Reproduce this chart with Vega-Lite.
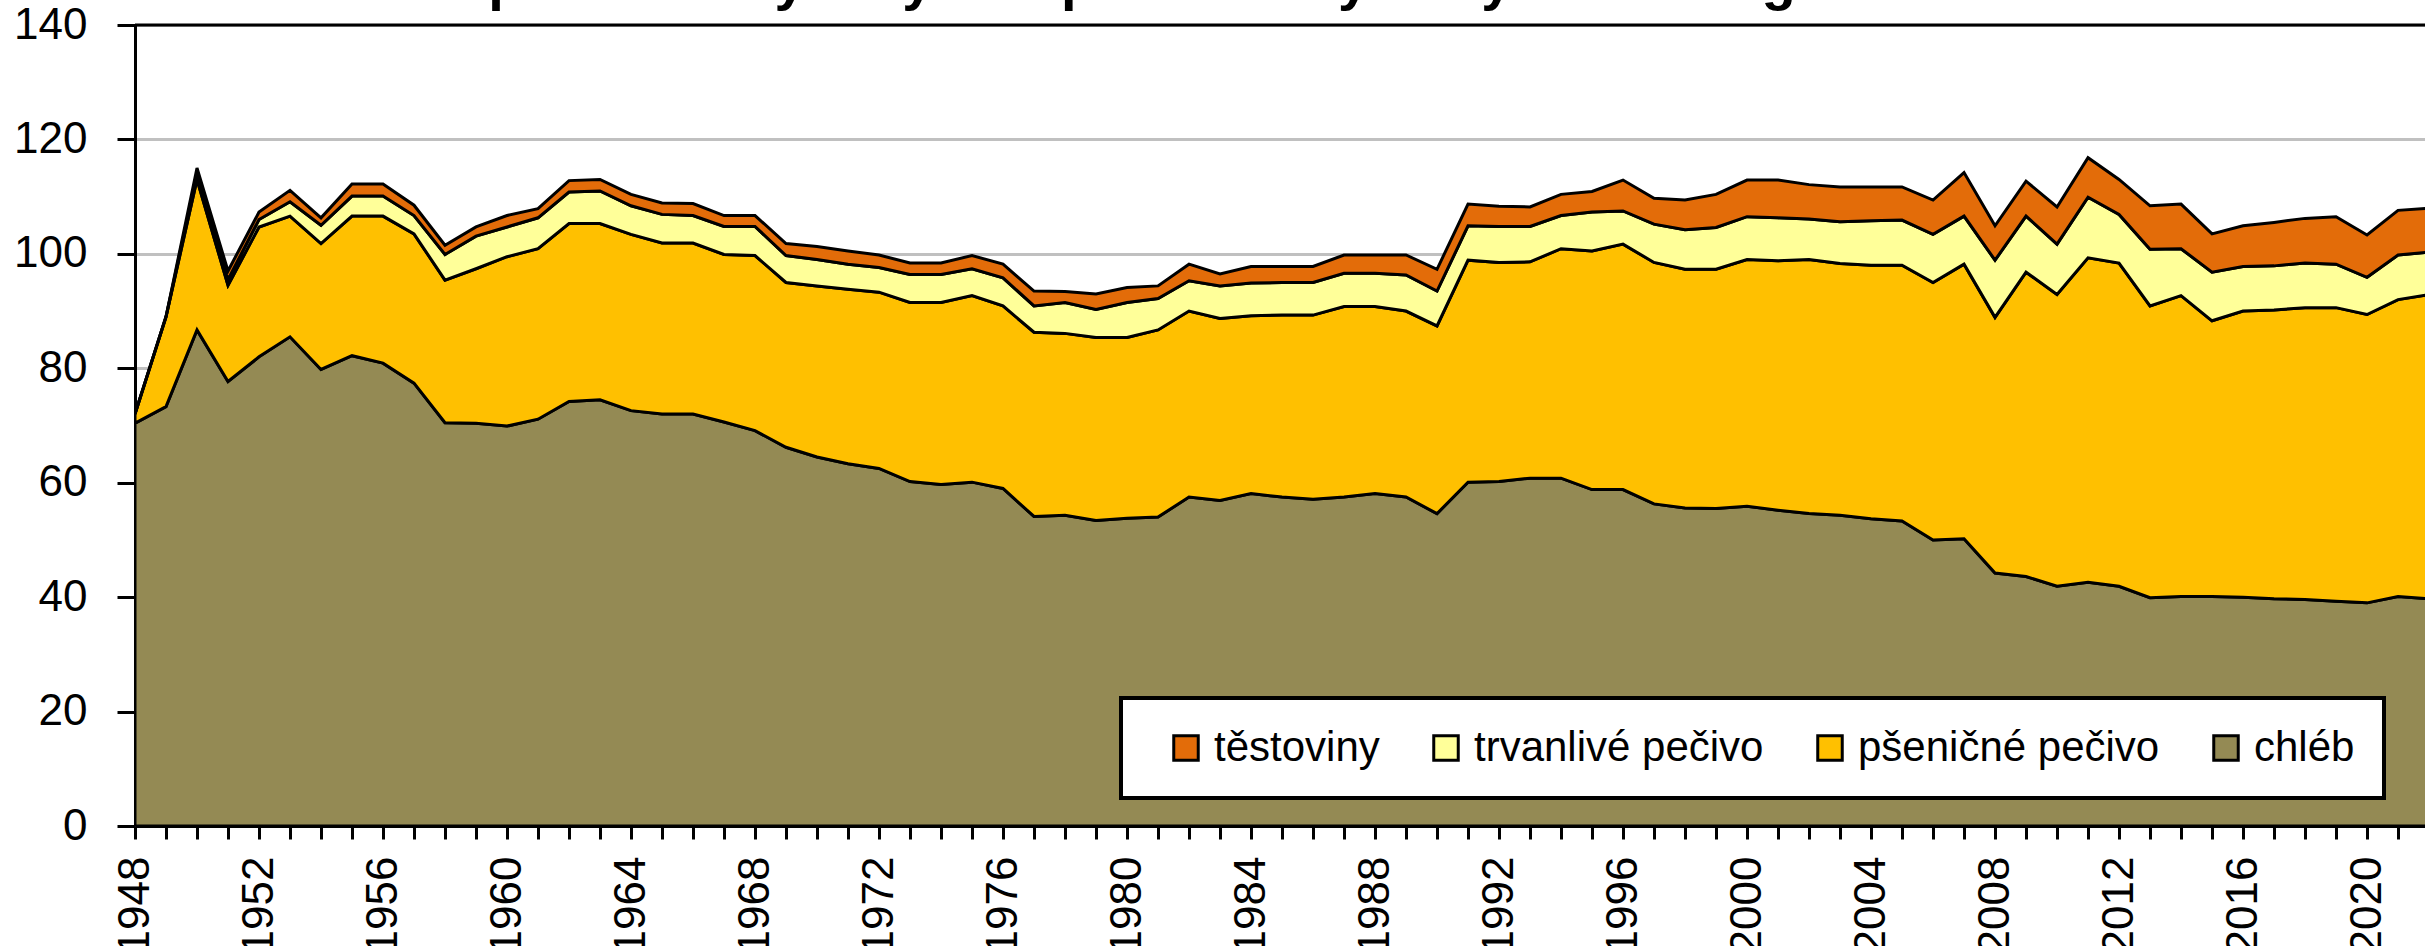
{
  "$schema": "https://vega.github.io/schema/vega-lite/v6.json",
  "autosize": {"type": "none"},
  "padding": {"left": 135, "top": 25, "right": 0, "bottom": 120},
  "width": 2290,
  "height": 801,
  "background": "white",
  "title": {
    "text": "Spotřeba mlýnských a pekárenských výrobků v kg na osobu",
    "anchor": "start", "frame": "group", "dx": 316, "offset": -8, "baseline": "top",
    "font": "Liberation Sans", "fontSize": 56, "fontWeight": "bold", "color": "black"
  },
  "config": {"view": {"stroke": null}, "font": "Liberation Sans", "legend": {"strokeWidth": 4}},
  "datasets": {
    "spotreba": [
      {"rok":1948,"chléb":70.4,"pšeničné pečivo":1.6,"trvanlivé pečivo":0,"těstoviny":0},
      {"rok":1949,"chléb":73.3,"pšeničné pečivo":15.7,"trvanlivé pečivo":0,"těstoviny":0},
      {"rok":1950,"chléb":86.7,"pšeničné pečivo":26.3,"trvanlivé pečivo":1.0,"těstoviny":1.0},
      {"rok":1951,"chléb":77.7,"pšeničné pečivo":16.8,"trvanlivé pečivo":1.0,"těstoviny":1.5},
      {"rok":1952,"chléb":82.0,"pšeničné pečivo":22.7,"trvanlivé pečivo":1.3,"těstoviny":1.3},
      {"rok":1953,"chléb":85.5,"pšeničné pečivo":21.1,"trvanlivé pečivo":2.5,"těstoviny":2.0},
      {"rok":1954,"chléb":79.8,"pšeničné pečivo":22.0,"trvanlivé pečivo":3.2,"těstoviny":1.3},
      {"rok":1955,"chléb":82.2,"pšeničné pečivo":24.4,"trvanlivé pečivo":3.5,"těstoviny":2.1},
      {"rok":1956,"chléb":80.9,"pšeničné pečivo":25.7,"trvanlivé pečivo":3.5,"těstoviny":2.1},
      {"rok":1957,"chléb":77.4,"pšeničné pečivo":26.1,"trvanlivé pečivo":3.2,"těstoviny":1.8},
      {"rok":1958,"chléb":70.5,"pšeničné pečivo":24.9,"trvanlivé pečivo":4.5,"těstoviny":1.6},
      {"rok":1959,"chléb":70.4,"pšeničné pečivo":27.0,"trvanlivé pečivo":5.7,"těstoviny":1.6},
      {"rok":1960,"chléb":69.9,"pšeničné pečivo":29.6,"trvanlivé pečivo":5.2,"těstoviny":2.0},
      {"rok":1961,"chléb":71.1,"pšeničné pečivo":29.8,"trvanlivé pečivo":5.4,"těstoviny":1.6},
      {"rok":1962,"chléb":74.2,"pšeničné pečivo":31.1,"trvanlivé pečivo":5.5,"těstoviny":2.0},
      {"rok":1963,"chléb":74.5,"pšeničné pečivo":30.8,"trvanlivé pečivo":5.7,"těstoviny":2.0},
      {"rok":1964,"chléb":72.6,"pšeničné pečivo":30.8,"trvanlivé pečivo":5.0,"těstoviny":2.0},
      {"rok":1965,"chléb":72.0,"pšeničné pečivo":29.9,"trvanlivé pečivo":5.0,"těstoviny":2.0},
      {"rok":1966,"chléb":72.0,"pšeničné pečivo":29.9,"trvanlivé pečivo":4.8,"těstoviny":2.1},
      {"rok":1967,"chléb":70.6,"pšeničné pečivo":29.3,"trvanlivé pečivo":4.9,"těstoviny":1.9},
      {"rok":1968,"chléb":69.1,"pšeničné pečivo":30.6,"trvanlivé pečivo":5.1,"těstoviny":1.9},
      {"rok":1969,"chléb":66.2,"pšeničné pečivo":28.8,"trvanlivé pečivo":4.7,"těstoviny":2.1},
      {"rok":1970,"chléb":64.5,"pšeničné pečivo":29.9,"trvanlivé pečivo":4.6,"těstoviny":2.3},
      {"rok":1971,"chléb":63.3,"pšeničné pečivo":30.5,"trvanlivé pečivo":4.4,"těstoviny":2.3},
      {"rok":1972,"chléb":62.5,"pšeničné pečivo":30.8,"trvanlivé pečivo":4.3,"těstoviny":2.2},
      {"rok":1973,"chléb":60.2,"pšeničné pečivo":31.3,"trvanlivé pečivo":4.9,"těstoviny":2.0},
      {"rok":1974,"chléb":59.7,"pšeničné pečivo":31.8,"trvanlivé pečivo":4.9,"těstoviny":2.0},
      {"rok":1975,"chléb":60.1,"pšeničné pečivo":32.6,"trvanlivé pečivo":4.7,"těstoviny":2.3},
      {"rok":1976,"chléb":59.0,"pšeničné pečivo":31.9,"trvanlivé pečivo":4.9,"těstoviny":2.4},
      {"rok":1977,"chléb":54.1,"pšeničné pečivo":32.2,"trvanlivé pečivo":4.6,"těstoviny":2.6},
      {"rok":1978,"chléb":54.3,"pšeničné pečivo":31.8,"trvanlivé pečivo":5.4,"těstoviny":1.9},
      {"rok":1979,"chléb":53.4,"pšeničné pečivo":32.0,"trvanlivé pečivo":4.9,"těstoviny":2.7},
      {"rok":1980,"chléb":53.8,"pšeničné pečivo":31.6,"trvanlivé pečivo":6.1,"těstoviny":2.6},
      {"rok":1981,"chléb":54.0,"pšeničné pečivo":32.7,"trvanlivé pečivo":5.5,"těstoviny":2.2},
      {"rok":1982,"chléb":57.5,"pšeničné pečivo":32.5,"trvanlivé pečivo":5.3,"těstoviny":2.9},
      {"rok":1983,"chléb":56.9,"pšeničné pečivo":31.8,"trvanlivé pečivo":5.7,"těstoviny":2.1},
      {"rok":1984,"chléb":58.1,"pšeničné pečivo":31.1,"trvanlivé pečivo":5.7,"těstoviny":2.9},
      {"rok":1985,"chléb":57.5,"pšeničné pečivo":31.8,"trvanlivé pečivo":5.7,"těstoviny":2.8},
      {"rok":1986,"chléb":57.1,"pšeničné pečivo":32.2,"trvanlivé pečivo":5.7,"těstoviny":2.8},
      {"rok":1987,"chléb":57.5,"pšeničné pečivo":33.3,"trvanlivé pečivo":5.8,"těstoviny":3.2},
      {"rok":1988,"chléb":58.1,"pšeničné pečivo":32.7,"trvanlivé pečivo":5.8,"těstoviny":3.2},
      {"rok":1989,"chléb":57.5,"pšeničné pečivo":32.5,"trvanlivé pečivo":6.3,"těstoviny":3.5},
      {"rok":1990,"chléb":54.6,"pšeničné pečivo":32.8,"trvanlivé pečivo":6.1,"těstoviny":3.8},
      {"rok":1991,"chléb":60.1,"pšeničné pečivo":38.8,"trvanlivé pečivo":6.0,"těstoviny":3.8},
      {"rok":1992,"chléb":60.2,"pšeničné pečivo":38.3,"trvanlivé pečivo":6.3,"těstoviny":3.5},
      {"rok":1993,"chléb":60.8,"pšeničné pečivo":37.8,"trvanlivé pečivo":6.2,"těstoviny":3.4},
      {"rok":1994,"chléb":60.8,"pšeničné pečivo":40.1,"trvanlivé pečivo":5.8,"těstoviny":3.7},
      {"rok":1995,"chléb":58.8,"pšeničné pečivo":41.7,"trvanlivé pečivo":6.8,"těstoviny":3.6},
      {"rok":1996,"chléb":58.8,"pšeničné pečivo":42.9,"trvanlivé pečivo":5.8,"těstoviny":5.4},
      {"rok":1997,"chléb":56.3,"pšeničné pečivo":42.2,"trvanlivé pečivo":6.7,"těstoviny":4.5},
      {"rok":1998,"chléb":55.6,"pšeničné pečivo":41.7,"trvanlivé pečivo":6.9,"těstoviny":5.2},
      {"rok":1999,"chléb":55.5,"pšeničné pečivo":41.8,"trvanlivé pečivo":7.3,"těstoviny":5.8},
      {"rok":2000,"chléb":55.9,"pšeničné pečivo":43.1,"trvanlivé pečivo":7.5,"těstoviny":6.4},
      {"rok":2001,"chléb":55.2,"pšeničné pečivo":43.6,"trvanlivé pečivo":7.5,"těstoviny":6.6},
      {"rok":2002,"chléb":54.6,"pšeničné pečivo":44.4,"trvanlivé pečivo":7.1,"těstoviny":6.0},
      {"rok":2003,"chléb":54.3,"pšeničné pečivo":44.0,"trvanlivé pečivo":7.3,"těstoviny":6.1},
      {"rok":2004,"chléb":53.7,"pšeničné pečivo":44.3,"trvanlivé pečivo":7.8,"těstoviny":5.9},
      {"rok":2005,"chléb":53.3,"pšeničné pečivo":44.7,"trvanlivé pečivo":7.9,"těstoviny":5.8},
      {"rok":2006,"chléb":50.0,"pšeničné pečivo":45.0,"trvanlivé pečivo":8.4,"těstoviny":6.0},
      {"rok":2007,"chléb":50.2,"pšeničné pečivo":48.0,"trvanlivé pečivo":8.4,"těstoviny":7.6},
      {"rok":2008,"chléb":44.2,"pšeničné pečivo":44.7,"trvanlivé pečivo":10.0,"těstoviny":6.0},
      {"rok":2009,"chléb":43.6,"pšeničné pečivo":53.2,"trvanlivé pečivo":9.8,"těstoviny":6.1},
      {"rok":2010,"chléb":41.9,"pšeničné pečivo":51.0,"trvanlivé pečivo":8.8,"těstoviny":6.5},
      {"rok":2011,"chléb":42.6,"pšeničné pečivo":56.7,"trvanlivé pečivo":10.6,"těstoviny":6.9},
      {"rok":2012,"chléb":41.9,"pšeničné pečivo":56.5,"trvanlivé pečivo":8.5,"těstoviny":6.1},
      {"rok":2013,"chléb":39.9,"pšeničné pečivo":51.0,"trvanlivé pečivo":9.9,"těstoviny":7.6},
      {"rok":2014,"chléb":40.1,"pšeničné pečivo":52.6,"trvanlivé pečivo":8.2,"těstoviny":7.8},
      {"rok":2015,"chléb":40.1,"pšeničné pečivo":48.2,"trvanlivé pečivo":8.5,"těstoviny":6.7},
      {"rok":2016,"chléb":40.0,"pšeničné pečivo":50.0,"trvanlivé pečivo":7.8,"těstoviny":7.1},
      {"rok":2017,"chléb":39.7,"pšeničné pečivo":50.5,"trvanlivé pečivo":7.7,"těstoviny":7.6},
      {"rok":2018,"chléb":39.6,"pšeničné pečivo":51.0,"trvanlivé pečivo":7.8,"těstoviny":7.8},
      {"rok":2019,"chléb":39.3,"pšeničné pečivo":51.3,"trvanlivé pečivo":7.6,"těstoviny":8.3},
      {"rok":2020,"chléb":39.0,"pšeničné pečivo":50.4,"trvanlivé pečivo":6.5,"těstoviny":7.4},
      {"rok":2021,"chléb":40.1,"pšeničné pečivo":51.9,"trvanlivé pečivo":7.8,"těstoviny":7.8},
      {"rok":2022,"chléb":39.7,"pšeničné pečivo":53.2,"trvanlivé pečivo":7.4,"těstoviny":7.7}
    ]
  },
  "layer": [
    {
      "data": {"name": "spotreba"},
      "transform": [
        {"fold": ["chléb", "pšeničné pečivo", "trvanlivé pečivo", "těstoviny"], "as": ["druh", "kg"]}
      ],
      "mark": {"type": "area", "stroke": "black", "strokeWidth": 3, "clip": true, "opacity": 1},
      "encoding": {
        "x": {
          "field": "rok", "type": "quantitative",
          "scale": {"domain": [1948, 2021.87], "nice": false, "zero": false},
          "axis": {
            "values": [1948,1949,1950,1951,1952,1953,1954,1955,1956,1957,1958,1959,1960,1961,1962,1963,1964,1965,1966,1967,1968,1969,1970,1971,1972,1973,1974,1975,1976,1977,1978,1979,1980,1981,1982,1983,1984,1985,1986,1987,1988,1989,1990,1991,1992,1993,1994,1995,1996,1997,1998,1999,2000,2001,2002,2003,2004,2005,2006,2007,2008,2009,2010,2011,2012,2013,2014,2015,2016,2017,2018,2019,2020,2021],
            "format": "d",
            "labelExpr": "(datum.value - 1948) % 4 === 0 ? datum.label : ''",
            "labelAngle": -90,
            "title": null, "grid": false,
            "domainColor": "black", "domainWidth": 3,
            "tickColor": "black", "tickWidth": 3, "tickSize": 13,
            "labelPadding": 17, "labelFont": "Liberation Sans", "labelFontSize": 44, "labelColor": "black",
            "labelOverlap": false, "labelFlush": false, "labelBound": false
          }
        },
        "y": {
          "field": "kg", "type": "quantitative", "stack": "zero",
          "scale": {"domain": [0, 140], "nice": false},
          "axis": {
            "values": [0, 20, 40, 60, 80, 100, 120, 140],
            "title": null, "grid": true, "gridColor": "#C0C0C0", "gridWidth": 3,
            "domainColor": "black", "domainWidth": 3,
            "tickColor": "black", "tickWidth": 3, "tickSize": 18,
            "labelPadding": 30, "labelFont": "Liberation Sans", "labelFontSize": 44, "labelColor": "black",
            "labelOverlap": false, "labelFlush": false
          }
        },
        "color": {
          "field": "druh", "type": "nominal",
          "scale": {
            "domain": ["těstoviny", "trvanlivé pečivo", "pšeničné pečivo", "chléb"],
            "range": ["#E36C09", "#FFFF99", "#FFC000", "#948A54"]
          },
          "legend": {
            "orient": "none", "legendX": 986, "legendY": 673, "direction": "horizontal",
            "title": null, "fillColor": "white", "strokeColor": "black", "padding": 29,
            "symbolType": "square", "symbolSize": 600, "symbolStrokeColor": "black", "symbolStrokeWidth": 3,
            "symbolOpacity": 1, "symbolOffset": 15, "labelOffset": 7, "columnPadding": 30,
            "labelFont": "Liberation Sans", "labelFontSize": 42, "labelColor": "black", "labelLimit": 0
          }
        },
        "order": {"field": "druh", "sort": "ascending"}
      }
    },
    {
      "data": {"values": [{}]},
      "mark": {"type": "rule", "color": "black", "strokeWidth": 3},
      "encoding": {"y": {"datum": 140}}
    }
  ]
}
